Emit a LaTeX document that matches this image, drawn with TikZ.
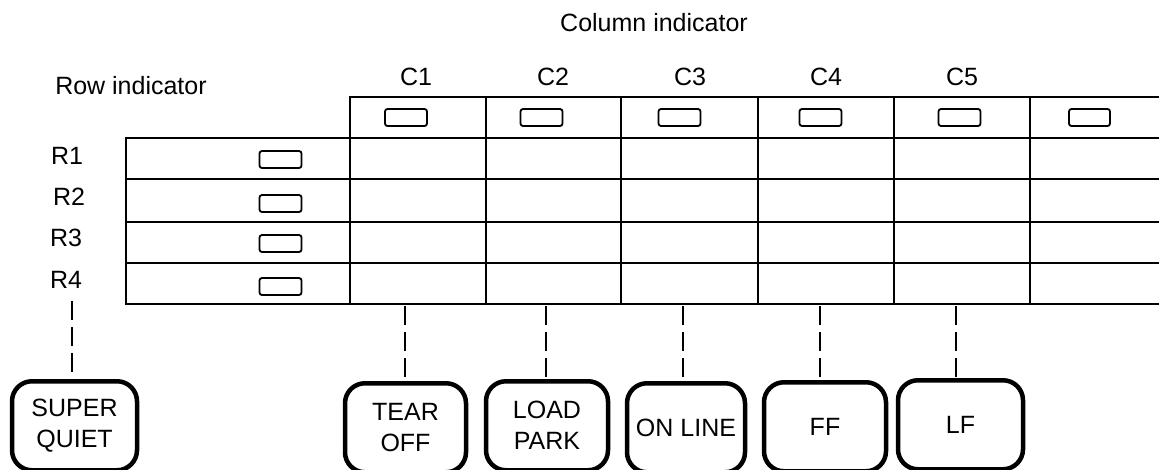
\documentclass[tikz,border=0pt]{standalone}
\usepackage{fontspec}
\setmainfont{Liberation Sans}
\begin{document}
\begin{tikzpicture}[x=1pt,y=-1pt,
  gridline/.style={line width=2pt, line cap=rect},
  led/.style={draw, line width=1.8pt, rounded corners=2.5pt, minimum width=42pt, minimum height=17pt, inner sep=0pt},
  keybtn/.style={draw, line width=4.5pt, rounded corners=20pt, minimum height=89pt, inner sep=0pt, anchor=north, align=center, font=\fontsize{25}{31}\selectfont},
  lbl/.style={font=\fontsize{25}{30}\selectfont, inner sep=0pt},
  link/.style={line width=1.5pt, dash pattern=on 19pt off 7pt}]
\useasboundingbox (0,0) rectangle (1159,469);
\clip (0,0) rectangle (1159,469);

% grid
\draw[gridline] (350,97) -- (1159,97);
\foreach \yy in {138,179,222,263,304} \draw[gridline] (126,\yy) -- (1160,\yy);
\draw[gridline] (126,138) -- (126,304);
\foreach \xx in {350,486,621,758,894,1030} \draw[gridline] (\xx,97) -- (\xx,304);

% labels
\node[lbl] (colind) at (654,23) {Column indicator};
\node[lbl] (rowind) at (131,86) {Row indicator};
\node[lbl] (lc1) at (416,77) {C1};
\node[lbl] (lc2) at (553,77) {C2};
\node[lbl] (lc3) at (690,77) {C3};
\node[lbl] (lc4) at (826,77) {C4};
\node[lbl] (lc5) at (962,77) {C5};
\node[lbl] (lr1) at (67,156) {R1};
\node[lbl] (lr2) at (69,197) {R2};
\node[lbl] (lr3) at (66,238) {R3};
\node[lbl] (lr4) at (66,280) {R4};

% indicator lamps
\node[led] (k1) at (406,117.5) {};
\node[led] (k2) at (541.5,117.5) {};
\node[led] (k3) at (679.5,117.5) {};
\node[led] (k4) at (820.5,117.5) {};
\node[led] (k5) at (959.5,117.5) {};
\node[led, minimum width=41pt] (k6) at (1089.5,117.5) {};
\node[led] (r1) at (280.5,159.5) {};
\node[led] (r2) at (280.5,203.5) {};
\node[led] (r3) at (280.5,243.5) {};
\node[led] (r4) at (280.5,286.5) {};

% buttons
\node[keybtn, minimum width=125pt] (sq) at (74.5,379) {SUPER\\QUIET};
\node[keybtn, minimum width=121pt] (tear) at (405.5,381) {TEAR\\OFF};
\node[keybtn, minimum width=122pt] (load) at (547,379) {LOAD\\PARK};
\node[keybtn, minimum width=118pt] (online) at (686,381) {ON LINE};
\node[keybtn, minimum width=122pt] (ff) at (825,380) {FF};
\node[keybtn, minimum width=125pt] (lf) at (960.5,378) {LF};

% connector start points
\coordinate (tsq) at (72,301);
\coordinate (t1) at (405,306);
\coordinate (t2) at (546,306);
\coordinate (t3) at (683,306);
\coordinate (t4) at (820,306);
\coordinate (t5) at (956,306);

\draw[link] (tsq) -- (tsq |- sq.north);
\draw[link] (t1) -- (t1 |- tear.north);
\draw[link] (t2) -- (t2 |- load.north);
\draw[link] (t3) -- (t3 |- online.north);
\draw[link] (t4) -- (t4 |- ff.north);
\draw[link] (t5) -- (t5 |- lf.north);
\end{tikzpicture}
\end{document}
